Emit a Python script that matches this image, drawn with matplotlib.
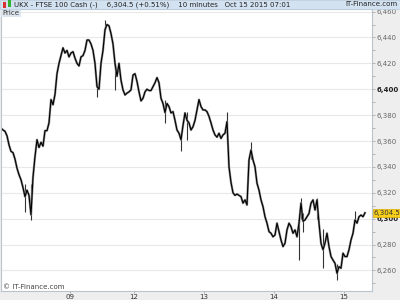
import numpy as np
import matplotlib
matplotlib.use("Agg")
import matplotlib.pyplot as plt
from matplotlib.patches import Rectangle

# 10-minute closes, FTSE 100 Cash, Oct 8 - Oct 15 2015
closes = [
    6370, 6368.5, 6367.5, 6364, 6357, 6352, 6351, 6346, 6339, 6334,
    6330, 6324, 6317, 6322, 6318, 6303, 6332, 6348, 6361, 6355,
    6359, 6356, 6368, 6368, 6374, 6392, 6388, 6396, 6412, 6420,
    6426, 6432, 6428, 6430, 6425, 6428, 6429, 6424, 6420, 6418,
    6425, 6426, 6430, 6438, 6438, 6435, 6430, 6420, 6402, 6400,
    6420, 6430, 6446, 6450, 6449, 6443, 6435, 6420, 6410, 6420,
    6407, 6399.5, 6395.6, 6397, 6398, 6399.5, 6411, 6412, 6406, 6398,
    6391, 6393, 6398, 6400, 6399, 6399, 6402, 6405, 6409, 6405,
    6393, 6389, 6382, 6389, 6386.6, 6381.7, 6382.7, 6376, 6368.5, 6366,
    6361, 6372, 6381.7, 6376, 6374, 6368.5, 6371, 6376, 6384, 6392,
    6386.6, 6384, 6384, 6382.7, 6379, 6374, 6368.5, 6364.7, 6363, 6366,
    6362, 6364.7, 6366, 6375, 6340, 6328, 6320, 6318, 6319, 6318,
    6317, 6312, 6314.5, 6310.6, 6345.4, 6353, 6345.4, 6340, 6327.4, 6322,
    6314.5, 6309.3, 6301.5, 6296.5, 6290, 6288.7, 6286, 6287.4, 6296.5, 6290,
    6283.5, 6278.4, 6281, 6291.3, 6296.5, 6293.8, 6288.7, 6291.3, 6286, 6296.5,
    6312, 6298, 6299, 6301.5, 6304, 6312, 6314.5, 6306.7, 6314.5, 6296.5,
    6281, 6276, 6281, 6288.7, 6278.4, 6270.7, 6268, 6265.5, 6257.8, 6262.9,
    6261.7, 6273.3, 6270.7, 6270.7, 6276, 6283.5, 6288.7, 6299, 6296.5, 6301.5,
    6302.8, 6301.5, 6304.5,
]

# a few wicks that stick out of the line (bar index, low, high)
spike_idx = [12, 15, 52, 57, 48, 82, 90, 93, 113, 125, 149, 150, 151, 158, 161, 168, 177]
spike_low = [6305, 6299, 6446, 6399.5, 6394, 6374, 6352, 6361, 6372, 6346, 6268, 6300, 6290, 6300, 6262, 6252.6, 6298]
spike_high = [6327, 6327, 6453.5, 6420, 6405, 6392, 6368, 6382.7, 6382.7, 6359.5, 6300, 6316, 6304, 6316, 6292, 6265, 6306]

day_ticks = [34.5, 66.5, 101.5, 136.5, 171.5]
day_labels = ["09", "12", "13", "14", "15"]
price_ticks = [6260, 6280, 6300, 6320, 6340, 6360, 6380, 6400, 6420, 6440, 6460]
last_price = 6304.5

fig = plt.figure(figsize=(4, 3), dpi=100, facecolor="#eeeeee")
ax = fig.add_axes([1 / 400, 9 / 300, 371 / 400, 282 / 300])
ax.set_facecolor("white")

x = np.arange(len(closes))
ax.vlines(spike_idx, spike_low, spike_high, color="#333333", lw=0.8)
ax.plot(x, closes, color="#8a8a8a", lw=1.6)
ax.plot(x, closes, color="black", lw=0.8)

ax.set_xlim(0, 185.5)
ax.set_ylim(6244.1, 6462)
for p in price_ticks:
    ax.axhline(p, color="#e8e8e8", lw=0.8, zorder=0)

ax.yaxis.tick_right()
ax.set_yticks(price_ticks)
ax.set_yticks(np.arange(6250, 6462, 20), minor=True)
ax.set_yticklabels([f"{p:,}" for p in price_ticks])
ax.tick_params(axis="y", which="both", direction="out", length=2, width=0.5,
               colors="#999999", labelsize=5, labelcolor="#666666", pad=1)
for lab, p in zip(ax.get_yticklabels(), price_ticks):
    if p in (6300, 6400):
        lab.set_color("#222222")
        lab.set_fontweight("bold")

ax.set_xticks(day_ticks)
ax.set_xticklabels(day_labels)
ax.tick_params(axis="x", direction="out", length=1.5, width=0.5, colors="#999999",
               labelsize=5, labelcolor="#333333", pad=0.5)
for s in ax.spines.values():
    s.set_color("#b8c4cf")
    s.set_linewidth(0.8)

# last price tag
ax.text(1.005, last_price, "6,304.5", transform=ax.get_yaxis_transform(),
        fontsize=5, color="#333333", va="center", ha="left",
        bbox=dict(boxstyle="square,pad=0.15", fc="#f5cf1a", ec="#d9a800", lw=0.5))

# "Price" tag and watermark
ax.text(0.003, 0.997, "Price", transform=ax.transAxes, fontsize=5, color="#333333",
        va="top", ha="left",
        bbox=dict(boxstyle="square,pad=0.2", fc="#dde5ee", ec="none"))
ax.text(0.005, 0.005, "© IT-Finance.com", transform=ax.transAxes, fontsize=5,
        color="#444444", va="bottom", ha="left")

# header bar
fig.patches.append(Rectangle((0, 291 / 300), 1, 9 / 300, transform=fig.transFigure,
                             fc="#d3e2f0", ec="#b8c8d8", lw=0.5))
fig.patches.append(Rectangle((3 / 400, 292.5 / 300), 3 / 400, 5 / 300,
                             transform=fig.transFigure, fc="#d93030", ec="none"))
fig.patches.append(Rectangle((8 / 400, 293.5 / 300), 3 / 400, 6 / 300,
                             transform=fig.transFigure, fc="#30b030", ec="none"))
fig.text(14 / 400, 295.5 / 300,
         "UKX - FTSE 100 Cash (-)    6,304.5 (+0.51%)    10 minutes   Oct 15 2015 07:01",
         fontsize=5, color="#222222", va="center", ha="left")
fig.text(397 / 400, 295.5 / 300, "IT-Finance.com", fontsize=5, color="#222222",
         va="center", ha="right")

fig.savefig("out.png", dpi=100, facecolor=fig.get_facecolor())
